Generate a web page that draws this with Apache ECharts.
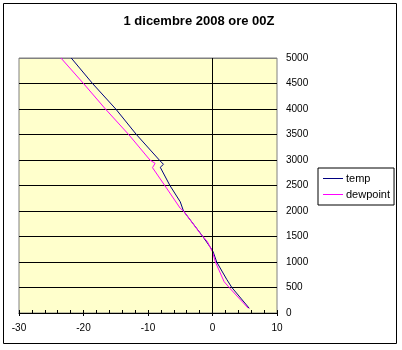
<!DOCTYPE html>
<html>
<head>
<meta charset="utf-8">
<title>1 dicembre 2008 ore 00Z</title>
<script src="https://cdn.jsdelivr.net/npm/echarts@6/dist/echarts.min.js"></script>
<style>
  html, body { margin: 0; padding: 0; background: #ffffff; }
  #chart { width: 402px; height: 350px; }
</style>
</head>
<body>
<div id="chart"></div>
<script>
// Radiosounding profile: temperature and dewpoint (°C) against height (m)
const chartTitle = '1 dicembre 2008 ore 00Z';
const seriesNames = ['temp', 'dewpoint'];

const tempHeight = [92, 500, 660, 1000, 1200, 1300, 1500, 2000, 2180, 2500, 2857, 2915, 3000, 3500, 4000, 4500, 5000];
const tempValue  = [5.7, 3.0, 2.2, 0.65, 0.1, -0.4, -1.5, -4.5, -5.0, -6.6, -8.1, -7.6, -8.25, -11.8, -15.0, -18.6, -21.9];

const dewHeight = [92, 484, 614, 1000, 1200, 1400, 1560, 2000, 2053, 2500, 2850, 2935, 3000, 3500, 4000, 4500, 5000];
const dewValue  = [5.55, 2.7, 1.8, 0.45, 0.0, -0.8, -1.9, -4.5, -5.0, -7.4, -9.3, -8.9, -9.7, -13.0, -16.6, -20.0, -23.5];

const xTicks = [-30, -20, -10, 0, 10];
const yTicks = [0, 500, 1000, 1500, 2000, 2500, 3000, 3500, 4000, 4500, 5000];

const font = '"Liberation Sans", Arial, sans-serif';

const pairs = (xs, hs) => xs.map((v, i) => [v, hs[i]]);

// horizontal grid lines: black inside, grey on the top edge of the plot frame
const splitColors = yTicks.map((v, i) => (i === yTicks.length - 1 ? '#808080' : '#000000'));

const chart = echarts.init(document.getElementById('chart'), null, { renderer: 'canvas' });

chart.setOption({
  animation: false,
  backgroundColor: '#ffffff',
  title: {
    text: chartTitle,
    left: 199,
    top: 15,
    padding: 0,
    textAlign: 'center',
    textStyle: { fontFamily: font, fontSize: 13, fontWeight: 'bold', color: '#000' }
  },
  graphic: [{
    type: 'rect',
    shape: { x: 3.5, y: 3.5, width: 393, height: 340 },
    style: { fill: 'none', stroke: '#000', lineWidth: 1 },
    silent: true,
    z: 100
  }],
  legend: {
    orient: 'vertical',
    left: 318,
    top: 168,
    padding: [5, 4, 5, 5],
    itemGap: 5,
    itemWidth: 20,
    itemHeight: 1,
    icon: 'rect',
    backgroundColor: '#ffffff',
    borderColor: '#000000',
    borderWidth: 1,
    borderRadius: 0,
    textStyle: { fontFamily: font, fontSize: 11, color: '#000', padding: [0, 0, 0, -2] },
    data: seriesNames
  },
  grid: {
    left: 19,
    right: 125,
    top: 58,
    bottom: 37,
    show: true,
    backgroundColor: '#FFFFCC',
    borderColor: '#808080',
    borderWidth: 1
  },
  xAxis: [{
    type: 'value',
    min: xTicks[0],
    max: xTicks[xTicks.length - 1],
    interval: 10,
    axisLine: { show: true, onZero: false, lineStyle: { color: '#000', width: 1 } },
    axisTick: { show: true, inside: true, length: 3, lineStyle: { color: '#000' } },
    minorTick: { show: true, splitNumber: 5, length: 3, lineStyle: { color: '#000' } },
    splitLine: { show: false },
    axisLabel: { fontFamily: font, fontSize: 10, color: '#000', margin: 10, formatter: v => String(v) }
  }, {
    type: 'value',
    position: 'bottom',
    min: xTicks[0],
    max: xTicks[xTicks.length - 1],
    interval: 10,
    axisLine: { show: false, onZero: false },
    axisTick: { show: true, inside: false, length: 3, lineStyle: { color: '#000' } },
    splitLine: { show: false },
    axisLabel: { show: false }
  }],
  yAxis: {
    type: 'value',
    position: 'right',
    min: yTicks[0],
    max: yTicks[yTicks.length - 1],
    interval: 500,
    axisLine: { show: false },
    axisTick: { show: false },
    splitLine: { show: true, lineStyle: { color: splitColors, width: 1 } },
    axisLabel: { fontFamily: font, fontSize: 10, color: '#000', margin: 9, formatter: v => String(v) }
  },
  series: [{
    name: seriesNames[0],
    type: 'line',
    data: pairs(tempValue, tempHeight),
    showSymbol: false,
    symbol: 'none',
    color: '#000080',
    lineStyle: { color: '#000080', width: 1 },
    markLine: {
      silent: true,
      symbol: 'none',
      label: { show: false },
      lineStyle: { color: '#000', type: 'solid', width: 1 },
      data: [{ xAxis: 0 }]
    }
  }, {
    name: seriesNames[1],
    type: 'line',
    data: pairs(dewValue, dewHeight),
    showSymbol: false,
    symbol: 'none',
    color: '#FF00FF',
    lineStyle: { color: '#FF00FF', width: 1 }
  }]
});
</script>
</body>
</html>
